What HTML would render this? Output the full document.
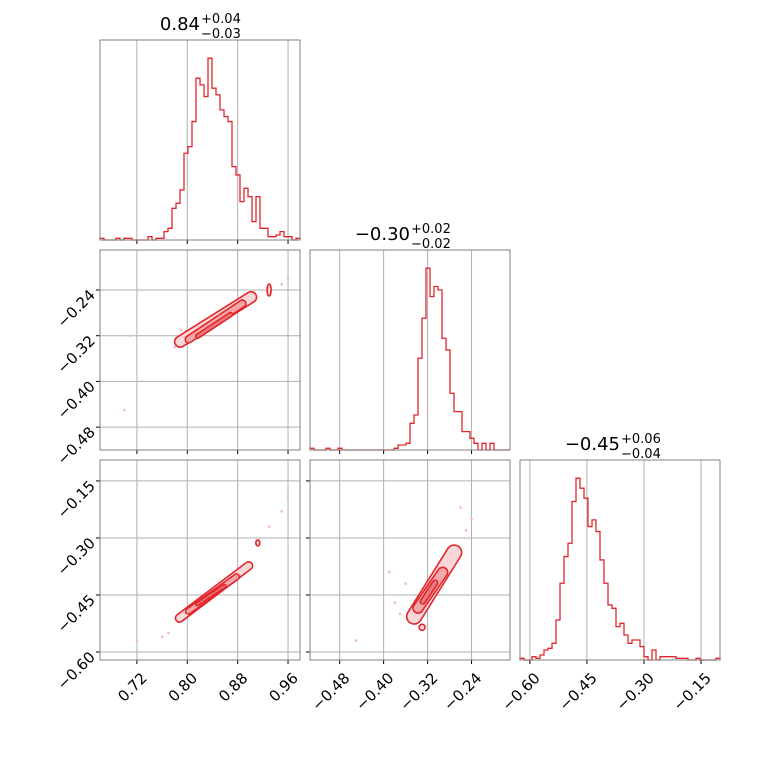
<!DOCTYPE html>
<html><head><meta charset="utf-8"><style>
body{margin:0;background:#fff}
svg text{font-family:"DejaVu Sans","Liberation Sans",sans-serif;fill:#000}
</style></head><body>
<svg id="c" width="760" height="760" viewBox="0 0 760 760"></svg>
<script>
const hist0 = [1,0,0,0,1,0,1,1,0,0,0,0,2,0,1,1,5,7,19,22,30,52,56,71,97,93,86,109,91,87,78,74,71,44,39,23,31,26,11,26,7,7,2,2,3,5,2,2,0,1];
const hist1 = [1,0,0,0,1,0,0,1,0,0,0,0,0,0,0,0,0,0,0,0,0,1,3,3,4,16,21,55,79,109,92,98,96,67,60,34,23,23,11,11,7,4,0,4,0,4,0,0,0,0];
const hist2 = [1,0,0,2,1,3,6,7,10,24,46,62,70,95,109,103,97,80,84,77,60,46,33,31,20,22,15,10,12,12,8,2,0,6,0,2,2,2,2,1,1,1,0,0,1,0,0,0,0,1];
const ranges = [[0.6614,0.979],[-0.534,-0.17],[-0.626,-0.10]];
const yRanges = [null,[-0.52,-0.17],[-0.621,-0.095]];
const ticks0 = [0.72,0.80,0.88,0.96];
const ticks1 = [-0.48,-0.40,-0.32,-0.24];
const ticks2 = [-0.60,-0.45,-0.30,-0.15];
const tickLabels0 = ["0.72","0.80","0.88","0.96"];
const tickLabels1 = ["\u22120.48","\u22120.40","\u22120.32","\u22120.24"];
const tickLabels2 = ["\u22120.60","\u22120.45","\u22120.30","\u22120.15"];
const titles = [["0.84","+0.04","\u22120.03"],["\u22120.30","+0.02","\u22120.02"],["\u22120.45","+0.06","\u22120.04"]];
const ridges10 = [[0.785,-0.333,0.905,-0.25,5.5],[0.80,-0.328,0.89,-0.262,3.5],[0.815,-0.322,0.87,-0.282,2]];
const ridges20 = [[0.785,-0.514,0.900,-0.37,4],[0.80,-0.495,0.88,-0.40,2.8],[0.815,-0.475,0.86,-0.425,1.5]];
const ridges21 = [[-0.348,-0.515,-0.268,-0.33,7.5],[-0.34,-0.49,-0.29,-0.385,5],[-0.33,-0.47,-0.305,-0.415,2.5]];
const islands10 = [[0.93,-0.24,2,6]];
const islands20 = [[0.912,-0.313,2,3]];
const islands21 = [[-0.33,-0.535,3,3]];
const scatter10x=[0.93,0.95,0.96,0.78,0.79,0.70,0.71,0.85,0.89];
const scatter10y=[-0.24,-0.23,-0.22,-0.34,-0.31,-0.45,-0.32,-0.30,-0.27];
const scatter20x=[0.93,0.95,0.96,0.77,0.76,0.72,0.80];
const scatter20y=[-0.27,-0.23,-0.19,-0.55,-0.56,-0.57,-0.50];
const scatter21x=[-0.25,-0.26,-0.24,-0.37,-0.38,-0.36,-0.45,-0.39];
const scatter21y=[-0.28,-0.22,-0.25,-0.50,-0.47,-0.42,-0.57,-0.39];

const svg=document.getElementById('c');
const NS='http://www.w3.org/2000/svg';
function mk(t,a,p){const e=document.createElementNS(NS,t);for(const k in a)e.setAttribute(k,a[k]);(p||svg).appendChild(e);return e;}
const PX=[100,310,520], PY=[40,250,460], S=200;
function sx(j,v){const r=ranges[j];return PX[j]+(v-r[0])/(r[1]-r[0])*S;}
function sy(i,v){const r=yRanges[i];return PY[i]+S-(v-r[0])/(r[1]-r[0])*S;}
const RED='#e3262b';
const tickSets=[ticks0,ticks1,ticks2], labSets=[tickLabels0,tickLabels1,tickLabels2];

function frameAndGrid(i,j,g){
  tickSets[j].forEach(t=>{const x=sx(j,t);const l=mk('line',{x1:x,x2:x,y1:PY[i],y2:PY[i]+S,stroke:'#b0b0b0','stroke-width':1},g);
    
    mk('line',{x1:x,x2:x,y1:PY[i]+S,y2:PY[i]+S+4,stroke:'#000'},g);});
  if(i!==j){tickSets[i].forEach(t=>{const y=sy(i,t);const l=mk('line',{x1:PX[j],x2:PX[j]+S,y1:y,y2:y,stroke:'#b0b0b0','stroke-width':1},g);
    
    mk('line',{x1:PX[j]-4,x2:PX[j],y1:y,y2:y,stroke:'#000'},g);});}
}
function frame(i,j,g){const r=mk('rect',{x:PX[j],y:PY[i],width:S,height:S,fill:'none',stroke:'#808080','stroke-width':1},g);
  }

function histo(k,data){
  const g=mk('g',{});
  frameAndGrid(k,k,g);
  const mx=Math.max(...data)*1.1, n=data.length, bw=S/n, base=PY[k]+S;
  let d='M'+PX[k]+','+base;
  data.forEach((v,b)=>{const y=base-v/mx*S;d+=' L'+(PX[k]+b*bw)+','+y+' L'+(PX[k]+(b+1)*bw)+','+y;});
  d+=' L'+(PX[k]+S)+','+base;
  const p=mk('path',{d:d,fill:'none',stroke:RED,'stroke-width':1.3},g);
  
  frame(k,k,g);
  const t=titles[k];const tx=PX[k]+S/2;
  const tt=mk('text',{x:tx,y:PY[k]-10,'font-size':18,'text-anchor':'end'},g);tt.textContent=t[0];
  
  const t1=mk('text',{x:tx+1,y:PY[k]-17,'font-size':13},g);t1.textContent=t[1];
  
  const t2=mk('text',{x:tx+1,y:PY[k]-2,'font-size':13},g);t2.textContent=t[2];
  
}
function contour(i,j,ridges,islands,scx,scy){
  const g=mk('g',{});
  frameAndGrid(i,j,g);
  const cp=mk('clipPath',{id:'clip'+i+j},g);mk('rect',{x:PX[j],y:PY[i],width:S,height:S},cp);
  const cg=mk('g',{'clip-path':'url(#clip'+i+j+')'},g);
  scx.forEach((x,q)=>{const c=mk('circle',{cx:sx(j,x),cy:sy(i,scy[q]),r:1.3,fill:'#f2b8ba'},cg);
    });
  const fills=['#f9d6d7','#f0a8ab','#e97a7e'];
  ridges.forEach((r,q)=>{const x0=sx(j,r[0]),y0=sy(i,r[1]),x1=sx(j,r[2]),y1=sy(i,r[3]);
    const cx=(x0+x1)/2,cy=(y0+y1)/2,len=Math.hypot(x1-x0,y1-y0)/2+r[4]*0.5,ang=Math.atan2(y1-y0,x1-x0)*180/Math.PI;
    const e=mk('rect',{x:cx-len,y:cy-r[4],width:2*len,height:2*r[4],rx:r[4],ry:r[4],fill:fills[q],stroke:RED,'stroke-width':1.6,transform:`rotate(${ang} ${cx} ${cy})`},cg);
    });
  islands.forEach(s=>{const e=mk('ellipse',{cx:sx(j,s[0]),cy:sy(i,s[1]),rx:s[2],ry:s[3],fill:fills[0],stroke:RED,'stroke-width':1.6},cg);
    });
  frame(i,j,g);
}
histo(0,hist0);histo(1,hist1);histo(2,hist2);
contour(1,0,ridges10,islands10,scatter10x,scatter10y);
contour(2,0,ridges20,islands20,scatter20x,scatter20y);
contour(2,1,ridges21,islands21,scatter21x,scatter21y);
[0,1,2].forEach(j=>{tickSets[j].forEach((t,q)=>{const x=sx(j,t)+11,y=PY[2]+S+19;
  const e=mk('text',{x:x,y:y,'font-size':15,'text-anchor':'end',transform:`rotate(-45 ${x} ${y})`});
  e.textContent=labSets[j][q];});});
[1,2].forEach(i=>{tickSets[i].forEach((t,q)=>{const y=sy(i,t)+6,x=PX[0]-4;
  const e=mk('text',{x:x,y:y,'font-size':15,'text-anchor':'end',transform:`rotate(-45 ${x} ${y})`});
  e.textContent=labSets[i][q];});});
</script>
</body></html>
